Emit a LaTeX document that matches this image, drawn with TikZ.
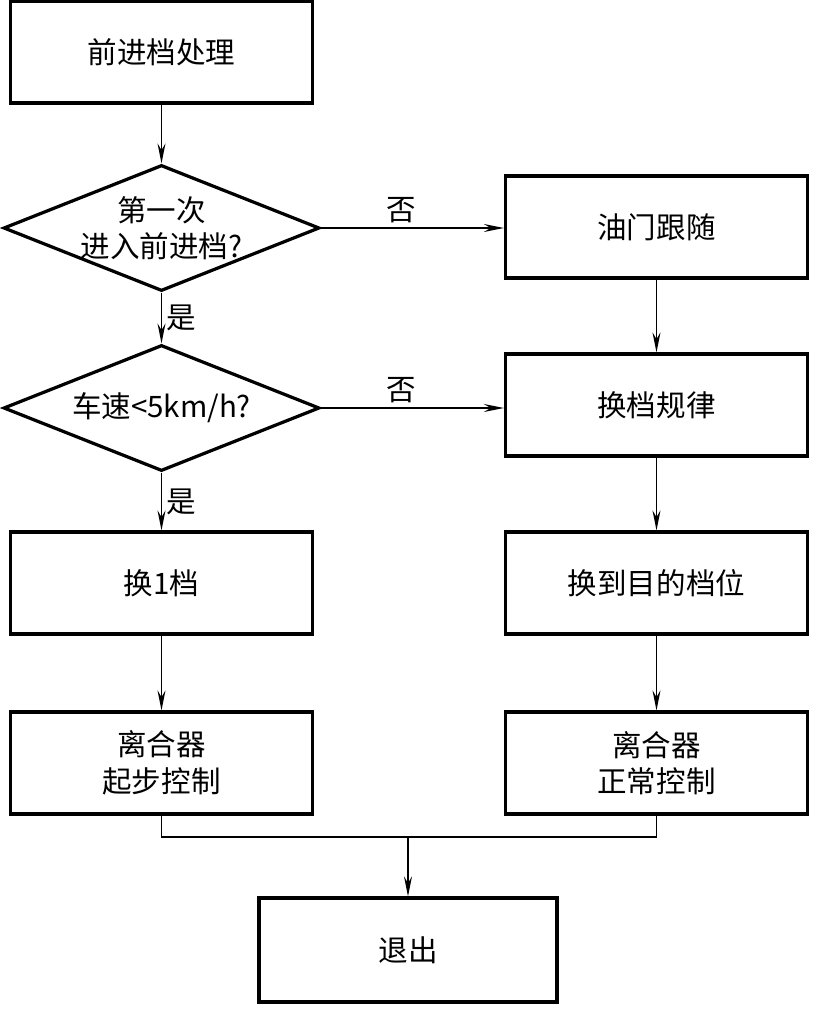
\documentclass[tikz,border=0pt]{standalone}
\usepackage{fontspec}
\newfontfamily\cjk{Noto Sans CJK SC}
\usetikzlibrary{arrows.meta,positioning,calc,shapes.geometric}

\begin{document}
\begin{tikzpicture}[x=0.025cm,y=-0.025cm,line width=0.9pt,
  >={Stealth[length=0.5cm,width=0.2cm,inset=0.17cm]},
  font=\cjk\fontsize{21}{26}\selectfont,
  block/.style={draw,line width=2.3pt,minimum width=7.55cm,minimum height=2.55cm,align=center,inner sep=0pt},
  decision/.style={draw,diamond,line width=2.3pt,minimum width=7.9cm,minimum height=3.15cm,inner sep=0pt}]
  \useasboundingbox (0,0) rectangle (815,1025);
  % left column
  \node[block] (prep) at (161.5,52) {前进档处理};
  \node[decision,label={[align=center]center:第一次\\进入前进档?}] (first) at (161.5,228) {};
  \node[decision,label={center:车速<5km/h?}] (speed) at (161.5,408) {};
  \node[block] (gearone) at (161.5,583) {换1档};
  \node[block] (startclutch) at (161.5,763) {离合器\\起步控制};
  % right column
  \node[block] (throttle) at (656.5,227) {油门跟随};
  \node[block] (shiftrule) at (656.5,405) {换档规律};
  \node[block] (target) at (656.5,583) {换到目的档位};
  \node[block] (normclutch) at (656.5,763) {离合器\\正常控制};
  \node[block,minimum width=7.45cm,minimum height=2.6cm] (quit) at (408,950) {退出};
  \coordinate (merge) at (408,837);
  % connectors
  \draw[->] (prep) -- (first);
  \draw[->] (first) -- node[right] {是} (speed);
  \draw[->] (speed) -- node[right] {是} (gearone);
  \draw[->] (first.east) -- node[above,pos=0.44] {否} (first.east -| throttle.west);
  \draw[->] (speed.east) -- node[above,pos=0.44] {否} (speed.east -| shiftrule.west);
  \draw[->] (throttle) -- (shiftrule);
  \draw[->] (shiftrule) -- (target);
  \draw[->] (target) -- (normclutch);
  \draw[->] (gearone) -- (startclutch);
  \draw (startclutch) |- (merge) -| (normclutch);
  \draw[->] (merge) -- (quit);
\end{tikzpicture}
\end{document}
